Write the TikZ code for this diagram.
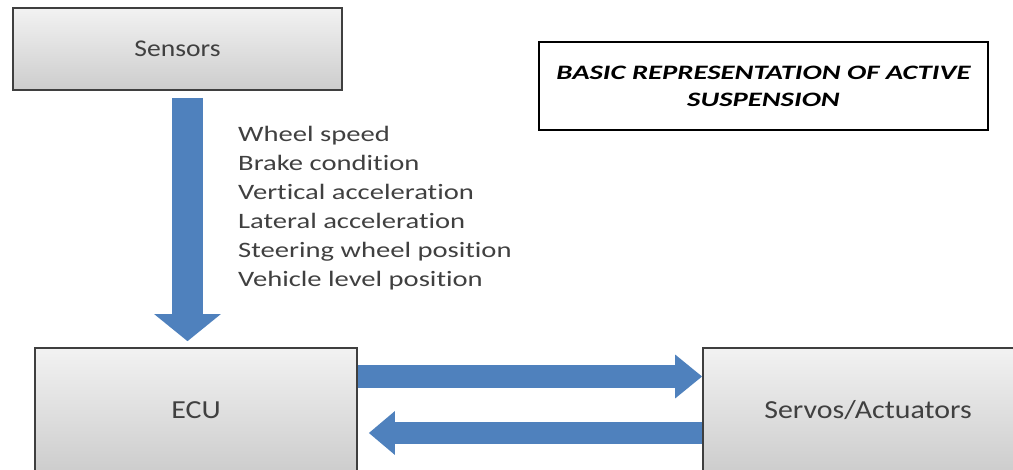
\documentclass[tikz,border=0pt]{standalone}
\usepackage{fontspec}
\usepackage{xcolor}
\usepackage{tikz}
\usetikzlibrary{arrows.meta,positioning}
\newfontfamily\boxfont[FakeStretch=1.15]{Carlito}
\newfontfamily\listfont[FakeStretch=1.3,Ligatures=NoCommon]{Carlito}
\newfontfamily\titlefont[FakeStretch=1.4]{Carlito}
\definecolor{arrowblue}{HTML}{4F81BD}
\definecolor{boxline}{HTML}{3F3F3F}
\definecolor{boxtop}{HTML}{F2F2F2}
\definecolor{boxbot}{HTML}{CDCDCD}
\definecolor{labeltext}{HTML}{404040}
\begin{document}
\begin{tikzpicture}[
  x=1pt, y=-1pt,
  block/.style={draw=boxline, line width=1.6pt, top color=boxtop, bottom color=boxbot,
    text=labeltext, inner sep=0pt},
  sigline/.style={font=\listfont\fontsize{22}{29}\selectfont, text=labeltext,
    inner sep=0pt, anchor=base west},
  fatarrow/.style={draw=arrowblue, line width=#1},
  fatarrow/.default=23pt
]
\useasboundingbox (0,0) rectangle (1013,470);
\clip (0,0) rectangle (1013,470);
\node[block, minimum width=329pt, minimum height=82pt,
  font=\boxfont\fontsize{24}{28}\selectfont] (sensors) at (177.5,49) {Sensors};
\node[draw=black, line width=2pt, fill=white, minimum width=449pt, minimum height=88pt,
  align=center, font=\titlefont\bfseries\itshape\fontsize{20.5}{27}\selectfont]
  (title) at (763.5,86) {BASIC REPRESENTATION OF ACTIVE\\SUSPENSION};
\node[block, minimum width=322pt, minimum height=124pt,
  font=\boxfont\fontsize{26}{30}\selectfont] (ecu) at (196,410) {ECU};
\node[block, minimum width=330pt, minimum height=124pt,
  font=\boxfont\fontsize{26}{30}\selectfont] (servos) at (868,410) {Servos/Actuators};
\foreach \txt [count=\i] in {Wheel speed,Brake condition,Vertical acceleration,
  Lateral acceleration,Steering wheel position,Vehicle level position}
  \node[sigline] (sig\i) at (238,113+29*\i) {\txt};
\draw[fatarrow=31pt, -{Triangle[width=65pt,length=27pt]}, shorten <=7pt, shorten >=6pt]
  ([xshift=10pt]sensors.south) -- ([xshift=10pt]sensors.south |- ecu.north);
\draw[fatarrow, -{Triangle[width=42pt,length=27pt]}]
  ([yshift=33.5pt]ecu.east) -- ([yshift=33.5pt]ecu.east -| servos.west);
\draw[fatarrow=22pt, -{Triangle[width=42pt,length=26pt]}, shorten >=11pt]
  ([yshift=-23pt]servos.west) -- ([yshift=-23pt]servos.west -| ecu.east);
\end{tikzpicture}
\end{document}
